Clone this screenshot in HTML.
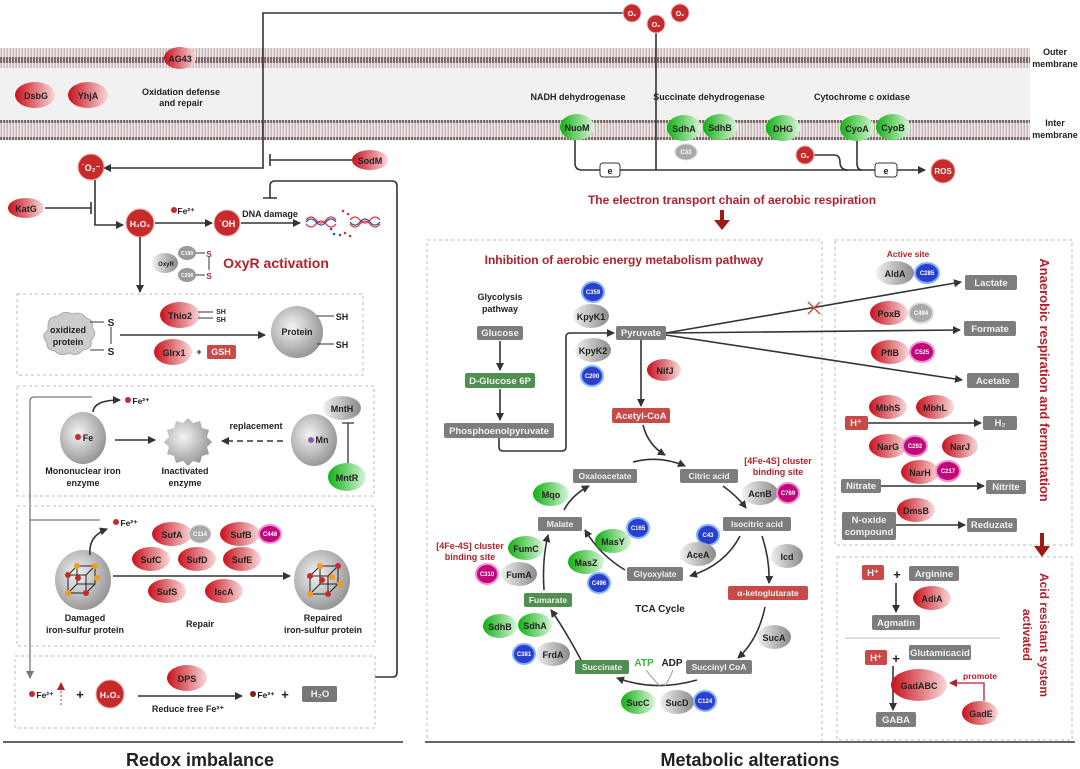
<!DOCTYPE html>
<html><head><meta charset="utf-8"><style>
html,body{margin:0;padding:0;background:#fff}
svg{display:block}
text{font-family:"Liberation Sans",Arial,sans-serif;font-weight:bold}
.l{font-size:10px;fill:#222;text-anchor:middle}
.s{font-size:9px;fill:#222;text-anchor:middle}
.w{font-size:9.5px;fill:#f2f2f2;text-anchor:middle}
.t{font-size:6px;fill:#fff;text-anchor:middle}
.r{fill:#b3202a;text-anchor:middle}
.box{fill:none;stroke:#bbb;stroke-dasharray:3 3;stroke-width:1}
.ln{stroke:#333;stroke-width:1.6;fill:none}
</style></head><body>
<svg width="1080" height="769" viewBox="0 0 1080 769" xmlns="http://www.w3.org/2000/svg">
<defs>
<linearGradient id="rg" x1="0" x2="1"><stop offset="0" stop-color="#c8101c"/><stop offset="1" stop-color="#f8d8d8"/></linearGradient>
<linearGradient id="gg" x1="0" x2="1"><stop offset="0" stop-color="#12b012"/><stop offset="1" stop-color="#d8f5d8"/></linearGradient>
<linearGradient id="yg" x1="0" x2="1"><stop offset="0" stop-color="#f0f0f0"/><stop offset="1" stop-color="#8a8a8a"/></linearGradient>
<radialGradient id="pg" cx="0.4" cy="0.4" r="0.7"><stop offset="0" stop-color="#f4f4f4"/><stop offset="1" stop-color="#8a8a8a"/></radialGradient>
<pattern id="mem" width="3" height="20" patternUnits="userSpaceOnUse">
<rect width="3" height="20" fill="#efe8e8"/><rect x="0" y="0" width="2.2" height="3" fill="#7d6a6a"/><rect x="0" y="17" width="2.2" height="3" fill="#7d6a6a"/><rect x="0.8" y="3" width="0.7" height="14" fill="#9c8888"/>
</pattern>
<marker id="a" markerWidth="8" markerHeight="8" refX="7" refY="4" orient="auto" markerUnits="userSpaceOnUse"><path d="M0,0 L8,4 L0,8z" fill="#333"/></marker>
<marker id="ag" markerWidth="8" markerHeight="8" refX="7" refY="4" orient="auto" markerUnits="userSpaceOnUse"><path d="M0,0 L8,4 L0,8z" fill="#777"/></marker>
<marker id="ar" markerWidth="8" markerHeight="8" refX="7" refY="4" orient="auto" markerUnits="userSpaceOnUse"><path d="M0,0 L8,4 L0,8z" fill="#b3202a"/></marker>
</defs>

<!-- membranes -->
<rect x="0" y="68" width="1030" height="52" fill="#f1f1f1"/>
<rect x="0" y="48" width="1030" height="20" fill="url(#mem)"/>
<rect x="0" y="120" width="1030" height="20" fill="url(#mem)"/>
<text x="1055" y="55" class="s">Outer</text><text x="1055" y="67" class="s">membrane</text>
<text x="1055" y="126" class="s">Inter</text><text x="1055" y="138" class="s">membrane</text>

<!-- top line O2 -->
<path d="M623,13 H263 V168 H104" class="ln" marker-end="url(#a)"/>
<path d="M656,33 V170" class="ln"/>
<g fill="#c62a2a" stroke="#f3c0c0"><circle cx="632" cy="13" r="9"/><circle cx="656" cy="24" r="9"/><circle cx="680" cy="13" r="9"/></g>
<text x="632" y="16" class="t" style="font-size:7px">O₂</text><text x="656" y="27" class="t" style="font-size:7px">O₂</text><text x="680" y="16" class="t" style="font-size:7px">O₂</text>

<ellipse cx="180" cy="58" rx="16" ry="11" fill="url(#rg)"/><text x="180" y="62" class="s">AG43</text>
<ellipse cx="35" cy="95" rx="20" ry="13" fill="url(#rg)"/><text x="36" y="99" class="s">DsbG</text>
<ellipse cx="88" cy="95" rx="20" ry="13" fill="url(#rg)"/><text x="88" y="99" class="s">YhjA</text>
<text x="181" y="95" class="s">Oxidation defense</text><text x="181" y="106" class="s">and repair</text>

<!-- O2- / H2O2 -->
<circle cx="91" cy="167" r="13" fill="#c62a2a" stroke="#f0b0b0"/><text x="91" y="171" class="t" style="font-size:9px">˙O₂⁻</text>
<ellipse cx="370" cy="160" rx="18" ry="10" fill="url(#rg)"/><text x="370" y="164" class="s">SodM</text>
<path d="M352,160 H270 M270,154 V166" class="ln"/>
<path d="M95,180 V225 H123" class="ln" marker-end="url(#a)"/>
<ellipse cx="26" cy="208" rx="18" ry="10" fill="url(#rg)"/><text x="26" y="212" class="s">KatG</text>
<path d="M45,208 H91 M91,202 V214" class="ln"/>
<circle cx="140" cy="223" r="14" fill="#c62a2a" stroke="#f0b0b0"/><text x="140" y="227" class="t" style="font-size:8.5px">H₂O₂</text>
<circle cx="174" cy="210" r="3" fill="#c62a2a"/><text x="186" y="214" class="s" style="font-size:8.5px">Fe²⁺</text>
<path d="M155,223 H212" class="ln" marker-end="url(#a)"/>
<circle cx="227" cy="223" r="13" fill="#c62a2a" stroke="#f0b0b0"/><text x="227" y="227" class="t" style="font-size:9px">˙OH</text>
<text x="270" y="217" class="s">DNA damage</text>
<path d="M241,223 H300" class="ln" marker-end="url(#a)"/>
<path d="M306,220 q5,-6 10,0 t10,0 t10,0 M306,224 q5,6 10,0 t10,0 t10,0" stroke="#d33" fill="none" stroke-width="1.3"/>
<path d="M306,222 q5,-6 10,0 t10,0 t10,0" stroke="#2455c0" fill="none" stroke-width="1.3"/>
<path d="M350,220 q5,-6 10,0 t10,0 t10,0 M350,224 q5,6 10,0 t10,0 t10,0" stroke="#d33" fill="none" stroke-width="1.3"/>
<path d="M350,222 q5,6 10,0 t10,0 t10,0" stroke="#2455c0" fill="none" stroke-width="1.3"/>
<g fill="#d33"><circle cx="343" cy="211" r="1.3"/><circle cx="348" cy="214" r="1.3"/><circle cx="345" cy="233" r="1.3"/><circle cx="350" cy="236" r="1.3"/></g>
<g fill="#2455c0"><circle cx="331" cy="229" r="1.3"/><circle cx="334" cy="234" r="1.3"/><circle cx="340" cy="235" r="1.3"/></g>
<path d="M375,677 H393 Q397,677 397,672 V186 Q397,181 392,181 H275 Q270,181 270,186 V198 M263,198 H277" class="ln"/>
<path d="M140,237 V292" class="ln" marker-end="url(#a)"/>
<ellipse cx="165" cy="263" rx="13" ry="10" fill="url(#yg)"/><text x="166" y="266" class="s" style="font-size:6px">OxyR</text>
<ellipse cx="187" cy="253" rx="9" ry="7" fill="#999"/><text x="187" y="255" class="t" style="font-size:5px">C199</text>
<ellipse cx="187" cy="275" rx="9" ry="7" fill="#999"/><text x="187" y="277" class="t" style="font-size:5px">C208</text>
<path d="M196,253 H205 M196,275 H205 M209,257 V270" stroke="#333" fill="none"/>
<text x="209" y="257" class="r" style="font-size:8px">S</text><text x="209" y="279" class="r" style="font-size:8px">S</text>
<text x="276" y="268" class="r" style="font-size:14px">OxyR activation</text>

<!-- box1 -->
<rect x="17" y="294" width="346" height="81" class="box"/>
<path d="M48,325 q0,-8 10,-9 q6,-6 14,-2 q10,-3 14,4 q8,2 6,10 q6,6 -1,12 q2,9 -8,10 q-6,7 -14,3 q-9,4 -14,-2 q-9,-1 -8,-9 q-7,-6 1,-12z" fill="#ccc" stroke="#aaa"/>
<text x="68" y="333" class="s">oxidized</text><text x="68" y="345" class="s">protein</text>
<path d="M90,322 H104 M90,350 H104 M111,327 V344" stroke="#333" fill="none"/>
<text x="111" y="326" class="s" style="font-size:10px">S</text><text x="111" y="355" class="s" style="font-size:10px">S</text>
<ellipse cx="180" cy="315" rx="20" ry="13" fill="url(#rg)"/><text x="180" y="319" class="s">Thio2</text>
<path d="M198,312 H213 M198,318 H213" stroke="#333"/><text x="221" y="314" class="s" style="font-size:7px">SH</text><text x="221" y="322" class="s" style="font-size:7px">SH</text>
<path d="M120,335 H265" class="ln" marker-end="url(#a)"/>
<ellipse cx="173" cy="352" rx="19" ry="13" fill="url(#rg)"/><text x="174" y="356" class="s">Glrx1</text>
<text x="199" y="355" class="s">+</text>
<rect x="207" y="345" width="29" height="14" rx="2" fill="#c94848"/><text x="221" y="355" class="w" style="font-size:9px">GSH</text>
<ellipse cx="297" cy="332" rx="26" ry="26" fill="url(#pg)"/><text x="297" y="335" class="s">Protein</text>
<path d="M317,316 H334 M317,344 H334" stroke="#333"/><text x="342" y="320" class="s">SH</text><text x="342" y="348" class="s">SH</text>

<!-- box2 -->
<rect x="17" y="386" width="357" height="110" class="box"/>
<ellipse cx="83" cy="438" rx="23" ry="26" fill="url(#pg)"/><circle cx="78" cy="437" r="3" fill="#c62a2a"/><text x="88" y="441" class="s">Fe</text>
<path d="M93,412 Q94,400 120,400" class="ln" stroke-width="1.2" marker-end="url(#a)"/>
<circle cx="128" cy="400" r="3" fill="#c62a2a"/><text x="141" y="404" class="s" style="font-size:8.5px">Fe²⁺</text>
<text x="83" y="474" class="s">Mononuclear iron</text><text x="83" y="486" class="s">enzyme</text>
<path d="M115,440 H155" class="ln" marker-end="url(#a)"/>
<path d="M188,418 l5,5 7,-2 2,7 7,2 -2,7 5,5 -5,5 2,7 -7,2 -2,7 -7,-2 -5,5 -5,-5 -7,2 -2,-7 -7,-2 2,-7 -5,-5 5,-5 -2,-7 7,-2 2,-7 7,2z" fill="url(#pg)"/>
<text x="185" y="474" class="s">Inactivated</text><text x="185" y="486" class="s">enzyme</text>
<path d="M283,441 H222" class="ln" stroke-dasharray="6 4" marker-end="url(#a)"/>
<text x="256" y="429" class="s">replacement</text>
<ellipse cx="314" cy="440" rx="23" ry="26" fill="url(#pg)"/><circle cx="311" cy="440" r="3" fill="#8a5bb5"/><text x="322" y="443" class="s">Mn</text>
<ellipse cx="342" cy="408" rx="19" ry="12" fill="url(#yg)"/><text x="342" y="412" class="s">MntH</text>
<path d="M348,466 V423 M342,423 H354" stroke="#333" stroke-width="1.3"/>
<ellipse cx="347" cy="477" rx="19" ry="14" fill="url(#gg)"/><text x="347" y="481" class="s">MntR</text>

<!-- gray left line -->
<path d="M92,397 H34 Q30,397 30,402 V678" stroke="#777" stroke-width="1.3" fill="none" marker-end="url(#ag)"/>
<path d="M30,520 H100" stroke="#777" stroke-width="1.3"/>

<!-- box3 -->
<rect x="17" y="506" width="358" height="140" class="box"/>
<ellipse cx="83" cy="580" rx="28" ry="30" fill="url(#pg)"/>
<g stroke="#222" stroke-width="1" fill="none"><rect x="68" y="575" width="18" height="18"/><rect x="77" y="566" width="18" height="18"/><path d="M68,575 L77,566 M86,575 L95,566 M68,593 L77,584 M86,593 L95,584"/></g>
<g><circle cx="68" cy="575" r="3" fill="#c62a2a"/><circle cx="95" cy="566" r="3" fill="#f39a1e"/><circle cx="77" cy="566" r="3" fill="#f39a1e"/><circle cx="86" cy="593" r="3" fill="#c62a2a"/><circle cx="78" cy="578" r="3" fill="#c62a2a"/><circle cx="68" cy="593" r="3" fill="#f39a1e"/><circle cx="97" cy="578" r="3" fill="#f39a1e"/></g>
<path d="M90,555 Q88,536 107,529" class="ln" stroke-width="1.2" marker-end="url(#a)"/>
<circle cx="116" cy="522" r="3" fill="#c62a2a"/><text x="129" y="526" class="s" style="font-size:8.5px">Fe²⁺</text>
<text x="85" y="621" class="s">Damaged</text><text x="85" y="633" class="s">iron-sulfur protein</text>
<ellipse cx="172" cy="534" rx="20" ry="12" fill="url(#rg)"/><text x="172" y="538" class="s">SufA</text>
<ellipse cx="200" cy="534" rx="11" ry="9" fill="#aaa" stroke="#ddd"/><text x="200" y="536" class="t">C114</text>
<ellipse cx="240" cy="534" rx="20" ry="12" fill="url(#rg)"/><text x="241" y="538" class="s">SufB</text>
<ellipse cx="270" cy="534" rx="11" ry="9" fill="#c0087a" stroke="#f090d0" stroke-width="2"/><text x="270" y="536" class="t">C448</text>
<ellipse cx="151" cy="559" rx="19" ry="12" fill="url(#rg)"/><text x="151" y="563" class="s">SufC</text>
<ellipse cx="197" cy="559" rx="19" ry="12" fill="url(#rg)"/><text x="197" y="563" class="s">SufD</text>
<ellipse cx="242" cy="559" rx="19" ry="12" fill="url(#rg)"/><text x="242" y="563" class="s">SufE</text>
<ellipse cx="167" cy="591" rx="19" ry="12" fill="url(#rg)"/><text x="167" y="595" class="s">SufS</text>
<ellipse cx="224" cy="591" rx="19" ry="12" fill="url(#rg)"/><text x="224" y="595" class="s">IscA</text>
<path d="M113,576 H290" class="ln" marker-end="url(#a)"/>
<text x="200" y="627" class="s">Repair</text>
<ellipse cx="322" cy="580" rx="28" ry="30" fill="url(#pg)"/>
<g stroke="#222" stroke-width="1" fill="none"><rect x="310" y="576" width="18" height="18"/><rect x="320" y="566" width="18" height="18"/><path d="M310,576 L320,566 M328,576 L338,566 M310,594 L320,584 M328,594 L338,584"/></g>
<g><circle cx="310" cy="576" r="3" fill="#c62a2a"/><circle cx="320" cy="566" r="3" fill="#f39a1e"/><circle cx="338" cy="566" r="3" fill="#c62a2a"/><circle cx="328" cy="594" r="3" fill="#c62a2a"/><circle cx="310" cy="594" r="3" fill="#f39a1e"/><circle cx="322" cy="580" r="3" fill="#c62a2a"/><circle cx="332" cy="577" r="3" fill="#f39a1e"/><circle cx="340" cy="584" r="3" fill="#f39a1e"/></g>
<text x="323" y="621" class="s">Repaired</text><text x="323" y="633" class="s">iron-sulfur protein</text>

<!-- box4 -->
<rect x="15" y="656" width="360" height="72" class="box"/>
<circle cx="32" cy="694" r="3" fill="#c62a2a"/><text x="45" y="698" class="s" style="font-size:8.5px">Fe²⁺</text>
<path d="M61,705 V683" stroke="#c62a2a" stroke-dasharray="2 2" marker-end="url(#ar)"/>
<text x="80" y="699" class="s" style="font-size:13px">+</text>
<circle cx="110" cy="694" r="14" fill="#c62a2a" stroke="#f0b0b0"/><text x="110" y="698" class="t" style="font-size:8.5px">H₂O₂</text>
<ellipse cx="187" cy="678" rx="20" ry="13" fill="url(#rg)"/><text x="187" y="682" class="s">DPS</text>
<path d="M138,696 H242" class="ln" marker-end="url(#a)"/>
<text x="188" y="712" class="s">Reduce free Fe²⁺</text>
<circle cx="253" cy="694" r="3" fill="#8a1a1a"/><text x="266" y="698" class="s" style="font-size:8.5px">Fe³⁺</text>
<text x="285" y="699" class="s" style="font-size:13px">+</text>
<rect x="302" y="686" width="35" height="16" rx="2" fill="#777"/><text x="320" y="697" class="w">H₂O</text>
<path d="M3,742 H403" stroke="#333" stroke-width="1.5"/>
<text x="200" y="766" class="l" style="font-size:18px">Redox imbalance</text>

<!-- ETC -->
<text x="578" y="100" class="s">NADH dehydrogenase</text>
<text x="709" y="100" class="s">Succinate dehydrogenase</text>
<text x="862" y="100" class="s">Cytochrome c oxidase</text>
<path d="M575,140 V163 Q575,170 582,170 H925" class="ln" marker-end="url(#a)"/>
<path d="M857,140 V163 Q857,170 862,170" class="ln"/>
<path d="M814,155 H834 Q840,155 840,162 Q840,170 848,170" class="ln"/>
<ellipse cx="577" cy="127" rx="17" ry="13" fill="url(#gg)"/><text x="577" y="131" class="s">NuoM</text>
<ellipse cx="684" cy="128" rx="17" ry="13" fill="url(#gg)"/><text x="684" y="132" class="s">SdhA</text>
<ellipse cx="720" cy="127" rx="17" ry="13" fill="url(#gg)"/><text x="720" y="131" class="s">SdhB</text>
<ellipse cx="783" cy="128" rx="17" ry="13" fill="url(#gg)"/><text x="783" y="132" class="s">DHG</text>
<ellipse cx="857" cy="128" rx="17" ry="13" fill="url(#gg)"/><text x="857" y="132" class="s">CyoA</text>
<ellipse cx="893" cy="127" rx="17" ry="13" fill="url(#gg)"/><text x="893" y="131" class="s">CyoB</text>
<ellipse cx="686" cy="152" rx="11" ry="8" fill="#aaa" stroke="#ddd"/><text x="686" y="154" class="t">C33</text>
<rect x="600" y="163" width="20" height="14" rx="3" fill="#fff" stroke="#333"/><text x="610" y="174" class="s">e</text>
<rect x="875" y="163" width="22" height="14" rx="3" fill="#fff" stroke="#333"/><text x="886" y="174" class="s">e</text>
<circle cx="805" cy="155" r="9" fill="#c62a2a" stroke="#f0b0b0"/><text x="805" y="158" class="t" style="font-size:7px">O₂</text>
<circle cx="943" cy="171" r="12" fill="#c62a2a" stroke="#f0b0b0"/><text x="943" y="174" class="t" style="font-size:8px">ROS</text>
<text x="732" y="204" class="r" style="font-size:12px">The electron transport chain of aerobic respiration</text>
<path d="M722,210 V222" stroke="#a01818" stroke-width="4"/><path d="M714,220 L730,220 L722,230z" fill="#a01818"/>

<!-- metabolism box -->
<rect x="427" y="240" width="395" height="502" class="box"/>
<text x="624" y="264" class="r" style="font-size:12px">Inhibition of aerobic energy metabolism pathway</text>
<text x="500" y="300" class="s">Glycolysis</text><text x="500" y="312" class="s">pathway</text>
<rect x="477" y="326" width="46" height="14" rx="2" fill="#7d7d7d"/><text x="500" y="336" class="w">Glucose</text>
<path d="M500,341 V370" class="ln" marker-end="url(#a)"/>
<rect x="465" y="373" width="70" height="15" rx="2" fill="#4f8f4f"/><text x="500" y="384" class="w">D-Glucose 6P</text>
<path d="M500,389 V420" class="ln" marker-end="url(#a)"/>
<rect x="444" y="423" width="110" height="15" rx="2" fill="#7d7d7d"/><text x="499" y="434" class="w">Phosphoenolpyruvate</text>
<path d="M499,438 V447 Q499,451 503,451 H562 Q566,451 566,447 V337 Q566,333 570,333 H614" class="ln" marker-end="url(#a)"/>
<rect x="616" y="326" width="50" height="14" rx="2" fill="#7d7d7d"/><text x="641" y="336" class="w">Pyruvate</text>
<ellipse cx="593" cy="292" rx="11" ry="10" fill="#2a3fcc" stroke="#7fb2ff" stroke-width="2"/><text x="593" y="294" class="t">C359</text>
<ellipse cx="591" cy="316" rx="18" ry="12" fill="url(#yg)"/><text x="591" y="320" class="s">KpyK1</text>
<ellipse cx="593" cy="350" rx="18" ry="12" fill="url(#yg)"/><text x="593" y="354" class="s">KpyK2</text>
<ellipse cx="592" cy="376" rx="11" ry="10" fill="#2a3fcc" stroke="#7fb2ff" stroke-width="2"/><text x="592" y="378" class="t">C200</text>
<ellipse cx="664" cy="370" rx="17" ry="11" fill="url(#rg)"/><text x="665" y="374" class="s">NifJ</text>
<path d="M641,340 V406" class="ln" marker-end="url(#a)"/>
<rect x="612" y="408" width="58" height="15" rx="2" fill="#c94848"/><text x="641" y="419" class="w">Acetyl-CoA</text>
<path d="M643,425 Q648,445 665,455" class="ln" stroke-width="1.3" marker-end="url(#a)"/>

<g>
<rect x="573" y="469" width="64" height="14" rx="2" fill="#7d7d7d"/><text x="605" y="479" class="w" style="font-size:8.5px">Oxaloacetate</text>
<rect x="680" y="469" width="58" height="14" rx="2" fill="#7d7d7d"/><text x="709" y="479" class="w" style="font-size:8.5px">Citric acid</text>
<rect x="723" y="517" width="68" height="14" rx="2" fill="#7d7d7d"/><text x="757" y="527" class="w" style="font-size:8.5px">Isocitric acid</text>
<rect x="538" y="517" width="44" height="14" rx="2" fill="#7d7d7d"/><text x="560" y="527" class="w" style="font-size:8.5px">Malate</text>
<rect x="627" y="567" width="56" height="14" rx="2" fill="#7d7d7d"/><text x="655" y="577" class="w" style="font-size:8.5px">Glyoxylate</text>
<rect x="728" y="586" width="80" height="14" rx="2" fill="#c94848"/><text x="768" y="596" class="w" style="font-size:8.5px">α-ketoglutarate</text>
<rect x="524" y="593" width="48" height="14" rx="2" fill="#4f8f4f"/><text x="548" y="603" class="w" style="font-size:8.5px">Fumarate</text>
<rect x="575" y="660" width="54" height="14" rx="2" fill="#4f8f4f"/><text x="602" y="670" class="w" style="font-size:8.5px">Succinate</text>
<rect x="686" y="660" width="66" height="14" rx="2" fill="#7d7d7d"/><text x="719" y="670" class="w" style="font-size:8.5px">Succinyl CoA</text>
</g>
<g class="ln" stroke-width="1.3">
<path d="M633,462 Q660,455 685,466" marker-end="url(#a)"/>
<path d="M723,486 Q737,496 746,508" marker-end="url(#a)"/>
<path d="M762,536 Q770,560 769,583" marker-end="url(#a)"/>
<path d="M765,607 Q758,640 738,658" marker-end="url(#a)"/>
<path d="M697,680 Q655,692 617,678" marker-end="url(#a)"/>
<path d="M581,660 Q565,630 551,610" marker-end="url(#a)"/>
<path d="M544,590 Q542,560 548,535" marker-end="url(#a)"/>
<path d="M564,510 Q572,495 589,486" marker-end="url(#a)"/>
<path d="M740,536 Q725,565 690,576" marker-end="url(#a)"/>
<path d="M625,570 Q600,555 585,530" marker-end="url(#a)"/>
<path d="M660,686 Q652,678 646,670 M665,686 Q670,678 673,670" stroke="#999" stroke-width="1"/>
</g>
<text x="660" y="612" class="s" style="font-size:10px">TCA Cycle</text>
<text x="644" y="666" style="font-size:10px;fill:#3cb33c;text-anchor:middle">ATP</text>
<text x="672" y="666" class="s" style="font-size:10px">ADP</text>
<ellipse cx="551" cy="494" rx="18" ry="12" fill="url(#gg)"/><text x="551" y="498" class="s">Mqo</text>
<ellipse cx="613" cy="541" rx="18" ry="12" fill="url(#gg)"/><text x="613" y="545" class="s">MasY</text>
<ellipse cx="638" cy="528" rx="11" ry="10" fill="#2a3fcc" stroke="#7fb2ff" stroke-width="2"/><text x="638" y="530" class="t">C165</text>
<ellipse cx="586" cy="562" rx="18" ry="12" fill="url(#gg)"/><text x="586" y="566" class="s">MasZ</text>
<ellipse cx="599" cy="583" rx="11" ry="10" fill="#2a3fcc" stroke="#7fb2ff" stroke-width="2"/><text x="599" y="585" class="t">C496</text>
<ellipse cx="526" cy="548" rx="18" ry="12" fill="url(#gg)"/><text x="526" y="552" class="s">FumC</text>
<ellipse cx="519" cy="574" rx="18" ry="12" fill="url(#yg)"/><text x="519" y="578" class="s">FumA</text>
<ellipse cx="487" cy="574" rx="11" ry="10" fill="#c0087a" stroke="#f090d0" stroke-width="2"/><text x="487" y="576" class="t">C310</text>
<text x="470" y="549" class="r" style="font-size:9px">[4Fe-4S] cluster</text><text x="470" y="560" class="r" style="font-size:9px">binding site</text>
<text x="778" y="464" class="r" style="font-size:9px">[4Fe-4S] cluster</text><text x="778" y="475" class="r" style="font-size:9px">binding site</text>
<ellipse cx="760" cy="493" rx="18" ry="12" fill="url(#yg)"/><text x="760" y="497" class="s">AcnB</text>
<ellipse cx="788" cy="493" rx="11" ry="10" fill="#c0087a" stroke="#f090d0" stroke-width="2"/><text x="788" y="495" class="t">C769</text>
<ellipse cx="708" cy="535" rx="11" ry="10" fill="#2a3fcc" stroke="#7fb2ff" stroke-width="2"/><text x="708" y="537" class="t">C43</text>
<ellipse cx="698" cy="554" rx="18" ry="12" fill="url(#yg)"/><text x="698" y="558" class="s">AceA</text>
<ellipse cx="787" cy="556" rx="16" ry="12" fill="url(#yg)"/><text x="787" y="560" class="s">Icd</text>
<ellipse cx="774" cy="637" rx="17" ry="12" fill="url(#yg)"/><text x="774" y="641" class="s">SucA</text>
<ellipse cx="500" cy="626" rx="17" ry="12" fill="url(#gg)"/><text x="500" y="630" class="s">SdhB</text>
<ellipse cx="535" cy="625" rx="17" ry="12" fill="url(#gg)"/><text x="535" y="629" class="s">SdhA</text>
<ellipse cx="524" cy="654" rx="11" ry="10" fill="#2a3fcc" stroke="#7fb2ff" stroke-width="2"/><text x="524" y="656" class="t">C381</text>
<ellipse cx="553" cy="654" rx="17" ry="12" fill="url(#yg)"/><text x="553" y="658" class="s">FrdA</text>
<ellipse cx="638" cy="702" rx="17" ry="12" fill="url(#gg)"/><text x="638" y="706" class="s">SucC</text>
<ellipse cx="677" cy="702" rx="17" ry="12" fill="url(#yg)"/><text x="677" y="706" class="s">SucD</text>
<ellipse cx="705" cy="701" rx="11" ry="10" fill="#2a3fcc" stroke="#7fb2ff" stroke-width="2"/><text x="705" y="703" class="t">C124</text>
<path d="M425,742 H1075" stroke="#333" stroke-width="1.5"/>
<text x="750" y="766" class="l" style="font-size:18px">Metabolic alterations</text>

<!-- anaerobic box -->
<rect x="835" y="240" width="237" height="305" class="box"/>
<text transform="translate(1040,380) rotate(90)" class="r" style="font-size:13px">Anaerobic respiration and fermentation</text>
<path d="M666,333 L961,282" class="ln" marker-end="url(#a)"/>
<path d="M666,333 L960,330" class="ln" marker-end="url(#a)"/>
<path d="M666,335 L962,380" class="ln" marker-end="url(#a)"/>
<path d="M808,302 L820,314 M820,302 L808,314" stroke="#d05050" stroke-width="1.5"/>
<text x="908" y="257" class="r" style="font-size:8.5px">Active site</text>
<ellipse cx="895" cy="273" rx="19" ry="12" fill="url(#yg)"/><text x="895" y="277" class="s">AldA</text>
<ellipse cx="927" cy="273" rx="12" ry="10" fill="#2a3fcc" stroke="#7fb2ff" stroke-width="2"/><text x="927" y="275" class="t">C285</text>
<rect x="965" y="275" width="52" height="15" rx="2" fill="#7d7d7d"/><text x="991" y="286" class="w">Lactate</text>
<rect x="964" y="321" width="52" height="15" rx="2" fill="#7d7d7d"/><text x="990" y="332" class="w">Formate</text>
<rect x="967" y="373" width="52" height="15" rx="2" fill="#7d7d7d"/><text x="993" y="384" class="w">Acetate</text>
<ellipse cx="889" cy="313" rx="19" ry="12" fill="url(#rg)"/><text x="889" y="317" class="s">PoxB</text>
<ellipse cx="921" cy="313" rx="12" ry="10" fill="#aaa" stroke="#ddd" stroke-width="2"/><text x="921" y="315" class="t">C494</text>
<ellipse cx="890" cy="352" rx="19" ry="12" fill="url(#rg)"/><text x="890" y="356" class="s">PflB</text>
<ellipse cx="922" cy="352" rx="12" ry="10" fill="#c0087a" stroke="#f090d0" stroke-width="2"/><text x="922" y="354" class="t">C525</text>
<ellipse cx="888" cy="407" rx="19" ry="12" fill="url(#rg)"/><text x="888" y="411" class="s">MbhS</text>
<ellipse cx="935" cy="407" rx="19" ry="12" fill="url(#rg)"/><text x="935" y="411" class="s">MbhL</text>
<rect x="845" y="416" width="23" height="14" rx="2" fill="#c94848"/><text x="856" y="426" class="w">H⁺</text>
<path d="M868,423 H981" class="ln" stroke-width="1.2" marker-end="url(#a)"/>
<rect x="983" y="416" width="34" height="14" rx="2" fill="#7d7d7d"/><text x="1000" y="426" class="w">H₂</text>
<ellipse cx="888" cy="446" rx="19" ry="12" fill="url(#rg)"/><text x="888" y="450" class="s">NarG</text>
<ellipse cx="915" cy="446" rx="12" ry="10" fill="#c0087a" stroke="#f090d0" stroke-width="2"/><text x="915" y="448" class="t">C292</text>
<ellipse cx="960" cy="446" rx="18" ry="12" fill="url(#rg)"/><text x="960" y="450" class="s">NarJ</text>
<ellipse cx="920" cy="472" rx="19" ry="12" fill="url(#rg)"/><text x="920" y="476" class="s">NarH</text>
<ellipse cx="948" cy="471" rx="12" ry="10" fill="#c0087a" stroke="#f090d0" stroke-width="2"/><text x="948" y="473" class="t">C217</text>
<rect x="841" y="479" width="40" height="14" rx="2" fill="#7d7d7d"/><text x="861" y="489" class="w">Nitrate</text>
<path d="M881,486 H984" class="ln" stroke-width="1.2" marker-end="url(#a)"/>
<rect x="986" y="480" width="40" height="14" rx="2" fill="#7d7d7d"/><text x="1006" y="490" class="w">Nitrite</text>
<ellipse cx="916" cy="510" rx="19" ry="12" fill="url(#rg)"/><text x="916" y="514" class="s">DmsB</text>
<rect x="842" y="512" width="54" height="28" rx="2" fill="#7d7d7d"/><text x="869" y="523" class="w">N-oxide</text><text x="869" y="535" class="w">compound</text>
<path d="M896,525 H965" class="ln" stroke-width="1.2" marker-end="url(#a)"/>
<rect x="967" y="518" width="50" height="14" rx="2" fill="#7d7d7d"/><text x="992" y="528" class="w">Reduzate</text>
<path d="M1042,533 V548" stroke="#a01818" stroke-width="4"/><path d="M1034,546 L1050,546 L1042,557z" fill="#a01818"/>

<!-- acid box -->
<rect x="837" y="557" width="235" height="183" class="box"/>
<text transform="translate(1040,635) rotate(90)" class="r" style="font-size:12px">Acid resistant system</text>
<text transform="translate(1023,635) rotate(90)" class="r" style="font-size:12px">activated</text>
<rect x="862" y="565" width="22" height="15" rx="2" fill="#c94848"/><text x="873" y="576" class="w">H⁺</text>
<text x="897" y="579" class="s" style="font-size:13px">+</text>
<rect x="909" y="566" width="50" height="15" rx="2" fill="#7d7d7d"/><text x="934" y="577" class="w">Arginine</text>
<ellipse cx="932" cy="598" rx="19" ry="12" fill="url(#rg)"/><text x="932" y="602" class="s">AdiA</text>
<path d="M896,583 V612" class="ln" stroke-width="1.2" marker-end="url(#a)"/>
<rect x="872" y="615" width="48" height="15" rx="2" fill="#7d7d7d"/><text x="896" y="626" class="w">Agmatin</text>
<path d="M845,638 H1000" stroke="#bbb"/>
<rect x="865" y="650" width="22" height="15" rx="2" fill="#c94848"/><text x="876" y="661" class="w">H⁺</text>
<text x="896" y="663" class="s" style="font-size:13px">+</text>
<rect x="909" y="645" width="62" height="15" rx="2" fill="#7d7d7d"/><text x="940" y="656" class="w">Glutamicacid</text>
<path d="M893,666 V710" class="ln" stroke-width="1.2" marker-end="url(#a)"/>
<rect x="876" y="712" width="40" height="15" rx="2" fill="#7d7d7d"/><text x="896" y="723" class="w">GABA</text>
<ellipse cx="919" cy="685" rx="28" ry="16" fill="url(#rg)"/><text x="919" y="689" class="s">GadABC</text>
<ellipse cx="980" cy="713" rx="18" ry="12" fill="url(#rg)"/><text x="981" y="717" class="s">GadE</text>
<path d="M984,701 V683 H950" stroke="#b3202a" stroke-width="1.3" fill="none" marker-end="url(#ar)"/>
<text x="980" y="679" class="r" style="font-size:8.5px">promote</text>
</svg>
</body></html>
